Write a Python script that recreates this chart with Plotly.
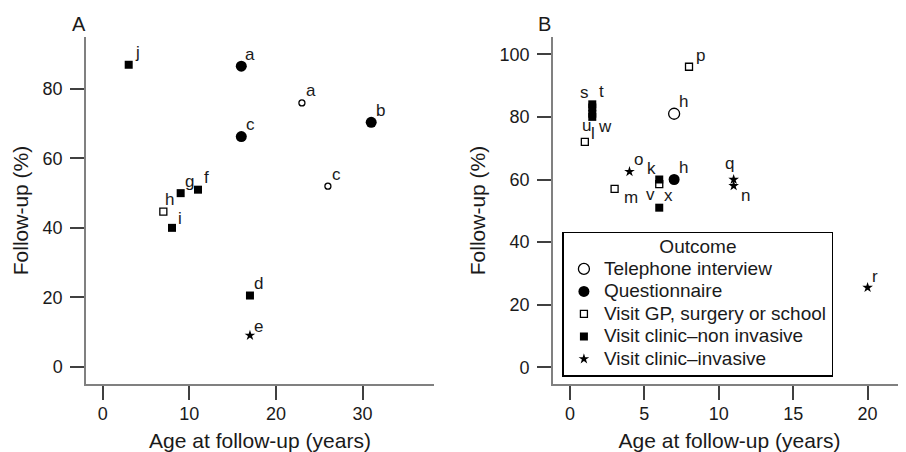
import plotly.graph_objects as go

# ---------------- data ----------------
outcomes = ["Telephone interview", "Questionnaire", "Visit GP, surgery or school",
            "Visit clinic\u2013non invasive", "Visit clinic\u2013invasive"]

# Panel A
tel_A_x = [23, 26]
tel_A_y = [76, 52]
tel_A_lab = ["a", "c"]
quest_A_x = [16, 31, 16]
quest_A_y = [86.6, 70.4, 66.3]
quest_A_lab = ["a", "b", "c"]
gp_A_x = [7]
gp_A_y = [44.7]
gp_A_lab = ["h"]
noninv_A_x = [3, 9, 11, 8, 17]
noninv_A_y = [87, 50, 51, 40, 20.5]
noninv_A_lab = ["j", "g", "f", "i", "d"]
inv_A_x = [17]
inv_A_y = [9]
inv_A_lab = ["e"]

# Panel B
tel_B_x = [7]
tel_B_y = [81]
tel_B_lab = ["h"]
quest_B_x = [7]
quest_B_y = [60]
quest_B_lab = ["h"]
gp_B_x = [8, 1, 3, 6]
gp_B_y = [96, 72, 57, 58.5]
gp_B_lab = ["p", "l", "m", "v"]
noninv_B_x = [1.5, 1.5, 1.5, 1.5, 6, 6]
noninv_B_y = [84, 83, 81, 80, 60, 51]
noninv_B_lab = ["s", "t", "u", "w", "k", "x"]
inv_B_x = [4, 11, 11, 20]
inv_B_y = [62.5, 60, 58, 25.5]
inv_B_lab = ["o", "q", "n", "r"]

x_ticks_A = [0, 10, 20, 30]
y_ticks_A = [0, 20, 40, 60, 80]
x_ticks_B = [0, 5, 10, 15, 20]
y_ticks_B = [0, 20, 40, 60, 80, 100]

# ---------------- styles ----------------
FONT = "Liberation Sans, Arial, Helvetica, sans-serif"
TXT = "#1a1a1a"
styles = [
    dict(symbol="circle-open", size_A=6, size_B=11, line=1.3),
    dict(symbol="circle", size_A=11, size_B=11, line=0),
    dict(symbol="square-open", size_A=7, size_B=7, line=1.3),
    dict(symbol="square", size_A=8, size_B=8, line=0),
    dict(symbol="star", size_A=8, size_B=8, line=0),
]
DEFAULT_OFF = (9, -12)
# label pixel offsets (dx right, dy down) for special cases
label_off = {
    ("A", "e"): (9, -9), ("A", "i"): (8, -9), ("A", "h"): (6, -12),
    ("B", "s"): (-8, -12), ("B", "t"): (9, -16), ("B", "u"): (-6, 12),
    ("B", "w"): (13, 10), ("B", "k"): (-8, -11), ("B", "v"): (-9, 10),
    ("B", "m"): (16, 9), ("B", "q"): (-4, -16), ("B", "n"): (12, 10),
    ("B", "l"): (8, -8), ("B", "r"): (7, -11), ("B", "p"): (11, -11),
}

panels = {
    "A": [(tel_A_x, tel_A_y, tel_A_lab), (quest_A_x, quest_A_y, quest_A_lab),
          (gp_A_x, gp_A_y, gp_A_lab), (noninv_A_x, noninv_A_y, noninv_A_lab),
          (inv_A_x, inv_A_y, inv_A_lab)],
    "B": [(tel_B_x, tel_B_y, tel_B_lab), (quest_B_x, quest_B_y, quest_B_lab),
          (gp_B_x, gp_B_y, gp_B_lab), (noninv_B_x, noninv_B_y, noninv_B_lab),
          (inv_B_x, inv_B_y, inv_B_lab)],
}

fig = go.Figure()
annotations = []
for pname, axes in (("A", ("x", "y")), ("B", ("x2", "y2"))):
    for i, (xs, ys, labs) in enumerate(panels[pname]):
        st = styles[i]
        fig.add_trace(go.Scatter(
            x=xs, y=ys, mode="markers",
            name='<span style="font-size:19px">' + outcomes[i] + "</span>",
            xaxis=axes[0], yaxis=axes[1],
            showlegend=(pname == "B"),
            marker=dict(symbol=st["symbol"], color="black",
                        size=st["size_" + pname],
                        line=dict(color="black", width=st["line"])),
            hoverinfo="skip",
        ))
        for xv, yv, lab in zip(xs, ys, labs):
            dx, dy = label_off.get((pname, lab), DEFAULT_OFF)
            annotations.append(dict(
                x=xv, y=yv, xref=axes[0], yref=axes[1], text=lab,
                showarrow=False, xshift=dx, yshift=-dy,
                xanchor="center", yanchor="middle",
                font=dict(family=FONT, size=17, color=TXT),
            ))

# panel letters
annotations.append(dict(text="A", xref="x domain", yref="y domain", x=-0.02, y=1.037,
                        showarrow=False, xanchor="center", yanchor="middle",
                        font=dict(family=FONT, size=20, color=TXT)))
annotations.append(dict(text="B", xref="x2 domain", yref="y2 domain", x=-0.023, y=1.037,
                        showarrow=False, xanchor="center", yanchor="middle",
                        font=dict(family=FONT, size=20, color=TXT)))

axis_common = dict(showline=True, linecolor="#808080", linewidth=1.5,
                   ticks="outside", ticklen=14, tickwidth=1.5, tickcolor="#404040",
                   showgrid=False, zeroline=False, mirror=False,
                   tickfont=dict(family=FONT, size=18, color=TXT))
title_font = dict(family=FONT, size=21, color=TXT)

# page body has an 8px margin, so the figure is 8px smaller and margins reduced
fig.update_layout(
    width=898, height=444,
    margin=dict(l=78, r=0, t=29, b=68),
    plot_bgcolor="white", paper_bgcolor="white",
    xaxis=dict(domain=[0, 0.4244], range=[-1.93, 38.25], tickvals=x_ticks_A,
               title=dict(text="Age at follow-up (years)", font=title_font, standoff=14),
               anchor="y", ticklabelstandoff=-1, **axis_common),
    yaxis=dict(domain=[0, 1], range=[-5, 95], tickvals=y_ticks_A,
               title=dict(text="Follow-up (%)", font=title_font, standoff=8),
               anchor="x", ticklabelstandoff=4, **axis_common),
    xaxis2=dict(domain=[0.5695, 1], range=[-1.14, 22.58], tickvals=x_ticks_B,
                title=dict(text="Age at follow-up (years)", font=title_font, standoff=14),
                anchor="y2", ticklabelstandoff=-1, **axis_common),
    yaxis2=dict(domain=[0, 1], range=[-5.3, 105.5], tickvals=y_ticks_B,
                title=dict(text="Follow-up (%)", font=title_font, standoff=8),
                anchor="x2", ticklabelstandoff=4, **axis_common),
    legend=dict(x=0.581, y=0.439, xanchor="left", yanchor="top",
                bgcolor="white", bordercolor="black", borderwidth=1.5,
                font=dict(family=FONT, size=15, color=TXT),
                title=dict(text='<span style="font-size:19px">Outcome</span>',
                           side="top center",
                           font=dict(family=FONT, size=15, color=TXT)),
                itemwidth=30, tracegroupgap=0),
    annotations=annotations,
    showlegend=True,
)

fig.write_html("out.html")
